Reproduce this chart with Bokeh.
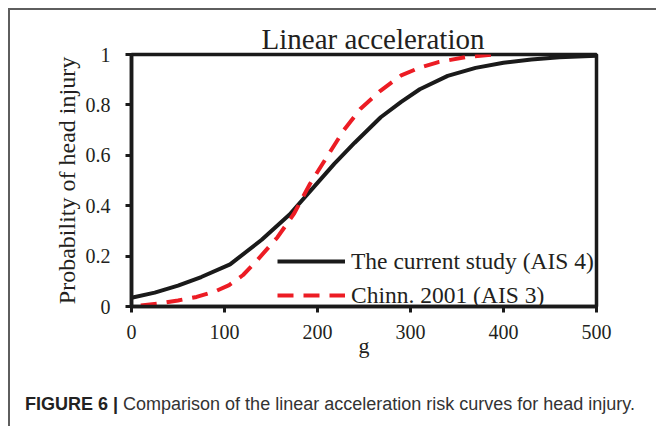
from bokeh.plotting import figure
from bokeh.layouts import column
from bokeh.models import Range1d, FixedTicker, Legend, LegendItem, ColumnDataSource, Div
from bokeh.embed import file_html
from bokeh.resources import INLINE

# ---- data ----
title_text = "Linear acceleration"
x_label = "g"
y_label = "Probability of head injury"
caption_bold = "FIGURE 6 |"
caption_text = "Comparison of the linear acceleration risk curves for head injury."

x_ticks = [0, 100, 200, 300, 400, 500]
y_ticks = [0, 0.2, 0.4, 0.6, 0.8, 1]
y_tick_labels = ["0", "0.2", "0.4", "0.6", "0.8", "1"]

series_names = ["The current study (AIS 4)", "Chinn. 2001 (AIS 3)"]

current_g = [0, 25, 50, 75, 106, 140, 170, 195, 218, 240, 268, 290, 310, 340, 370, 400, 430, 460, 500]
current_p = [0.035, 0.055, 0.083, 0.117, 0.167, 0.265, 0.365, 0.47, 0.566, 0.65, 0.751, 0.812,
             0.862, 0.915, 0.947, 0.967, 0.98, 0.989, 0.995]

chinn_g = [10, 30, 50, 70, 90, 105, 120, 135, 157, 175, 192, 210, 228, 246, 268, 290, 310, 330, 360, 390]
chinn_p = [0.004, 0.012, 0.024, 0.038, 0.06, 0.085, 0.125, 0.183, 0.275, 0.37, 0.487, 0.593,
           0.698, 0.784, 0.857, 0.917, 0.948, 0.97, 0.99, 1.0]

# ---- styles ----
SERIF = "Liberation Serif"
SANS = "Liberation Sans"
TXT = "#231f20"
BLACK = "#1a1a1a"
RED = "#ec1c24"

W = 646
p = figure(width=W, height=365, output_backend="svg", toolbar_location=None,
           x_range=Range1d(0, 500), y_range=Range1d(0, 1),
           min_border_left=121, min_border_right=60, min_border_top=44, min_border_bottom=69,
           background_fill_color="white", border_fill_alpha=0)

p.title.text = title_text
p.title.text_font = SERIF
p.title.text_font_size = "29px"
p.title.text_font_style = "normal"
p.title.text_color = TXT
p.title.align = "left"
p.title.offset = 130
p.title.standoff = 0

p.grid.visible = False
p.outline_line_color = BLACK
p.outline_line_width = 3.5
p.outline_line_alpha = 1

for ax in (p.xaxis[0], p.yaxis[0]):
    ax.axis_line_color = BLACK
    ax.axis_line_width = 3.5
    ax.major_tick_line_color = BLACK
    ax.major_tick_line_width = 3
    ax.major_tick_out = 6
    ax.major_tick_in = 0
    ax.minor_tick_line_color = None
    ax.major_label_text_font = SERIF
    ax.major_label_text_font_size = "20px"
    ax.major_label_text_color = TXT
    ax.axis_label_text_font = SERIF
    ax.axis_label_text_font_style = "normal"
    ax.axis_label_text_color = TXT

p.xaxis.ticker = FixedTicker(ticks=x_ticks)
p.yaxis.ticker = FixedTicker(ticks=y_ticks)
p.yaxis.major_label_overrides = {t: s for t, s in zip(y_ticks, y_tick_labels)}
p.xaxis.major_label_standoff = 12
p.yaxis.major_label_standoff = 15

p.xaxis.axis_label = x_label
p.xaxis.axis_label_text_font_size = "22px"
p.xaxis.axis_label_standoff = -9
p.yaxis.axis_label = y_label
p.yaxis.axis_label_text_font_size = "24px"
p.yaxis.axis_label_standoff = 3

src_cur = ColumnDataSource(dict(g=current_g, p=current_p))
src_chinn = ColumnDataSource(dict(g=chinn_g, p=chinn_p))

r1 = p.line("g", "p", source=src_cur, line_width=4, line_color=BLACK)
r2 = p.line("g", "p", source=src_chinn, line_width=4, line_color=RED, line_dash="16 10")

legend = Legend(items=[LegendItem(label=series_names[0], renderers=[r1]),
                       LegendItem(label=series_names[1], renderers=[r2])],
                location=(146, -4), orientation="vertical",
                glyph_width=68, glyph_height=30, label_height=30, label_standoff=6,
                spacing=4, padding=0, margin=0,
                border_line_color=None, background_fill_alpha=0,
                label_text_font=SERIF, label_text_font_size="23.5px", label_text_color=TXT)
p.add_layout(legend, "center")

# ---- caption ----
cap_html = ('<div style="padding:19px 0 0 15px; font-family:\'%s\'; font-size:18px; '
            'color:#333333; white-space:nowrap; line-height:1.2;">'
            '<span style="font-weight:bold; color:#222222;">%s</span> %s</div>'
            % (SANS, caption_bold, caption_text))
cap = Div(text=cap_html, width=W, height=51, styles={"margin": "0", "padding": "0"})

layout = column(p, cap, spacing=0,
                styles={"margin": "8px 0 0 8px", "border-top": "2px solid #5e5e5e",
                        "border-left": "2px solid #5e5e5e"})

open("out.html", "w").write(file_html(layout, INLINE))
